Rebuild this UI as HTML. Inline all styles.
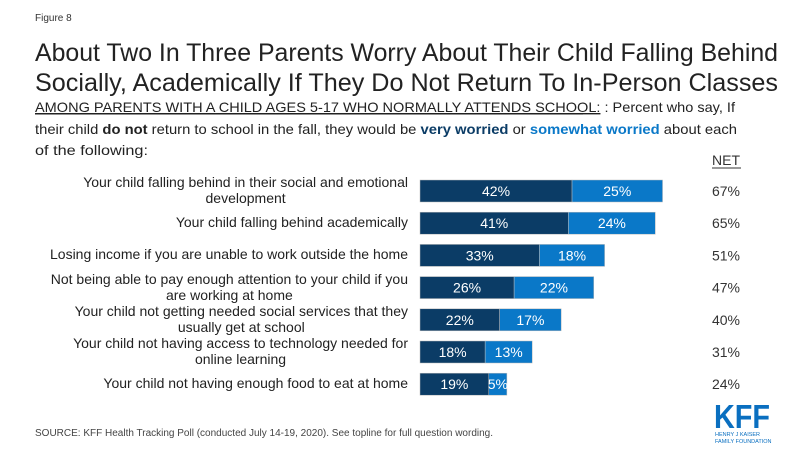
<!DOCTYPE html>
<html><head><meta charset="utf-8"><style>
body{margin:0;background:#fff;font-family:"Liberation Sans",Arial,sans-serif}
#wrap{position:relative;width:800px;height:450px;overflow:hidden}
.lbl{position:absolute;right:392px;text-align:center;white-space:nowrap;font-size:14px;line-height:16px;color:#222}
</style></head><body>
<div id="wrap">
<svg id="svg" width="800" height="450" style="position:absolute;left:0;top:0">
<text x="35" y="21" font-size="10" fill="#333">Figure 8</text>
<text x="35" y="61" font-size="25" fill="#222" textLength="743" lengthAdjust="spacingAndGlyphs">About Two In Three Parents Worry About Their Child Falling Behind</text>
<text x="35" y="91" font-size="25" fill="#222" textLength="743" lengthAdjust="spacingAndGlyphs">Socially, Academically If They Do Not Return To In-Person Classes</text>
<text x="35" y="112" font-size="14" fill="#222" textLength="700" lengthAdjust="spacingAndGlyphs"><tspan text-decoration="underline">AMONG PARENTS WITH A CHILD AGES 5-17 WHO NORMALLY ATTENDS SCHOOL:</tspan> : Percent who say, If</text>
<line x1="35" y1="114" x2="583" y2="114" stroke="#222" stroke-width="1"/>
<text x="35" y="134" font-size="14" fill="#222" textLength="702" lengthAdjust="spacingAndGlyphs">their child <tspan font-weight="bold">do not</tspan> return to school in the fall, they would be <tspan font-weight="bold" fill="#0b3c66">very worried</tspan> or <tspan font-weight="bold" fill="#0a78c8">somewhat worried</tspan> about each</text>
<text x="35" y="155" font-size="14" fill="#222" textLength="113" lengthAdjust="spacingAndGlyphs">of the following:</text>
<text x="726" y="165" font-size="14" fill="#333" text-anchor="middle">NET</text>
<line x1="712" y1="168" x2="741" y2="168" stroke="#333" stroke-width="1"/>
<text x="35" y="436" font-size="10" fill="#444">SOURCE: KFF Health Tracking Poll (conducted July 14-19, 2020). See topline for full question wording.</text>
<g>
<text x="714" y="428" font-size="33" font-weight="bold" fill="#0a6fc0" textLength="56" lengthAdjust="spacingAndGlyphs">KFF</text>
<text x="715" y="436" font-size="5.5" fill="#0a6fc0">HENRY J KAISER</text>
<text x="715" y="443" font-size="5.5" fill="#0a6fc0">FAMILY FOUNDATION</text>
</g>
<g id="bars"></g>
</svg>
<div id="labels"></div>
</div>
<script>
const categories=["Your child falling behind in their social and emotional<br>development","Your child falling behind academically","Losing income if you are unable to work outside the home","Not being able to pay enough attention to your child if you<br>are working at home","Your child not getting needed social services that they<br>usually get at school","Your child not having access to technology needed for<br>online learning","Your child not having enough food to eat at home"];
const veryWorried=[42,41,33,26,22,18,19];
const somewhatWorried=[25,24,18,22,17,13,5];
const netValues=[67,65,51,47,40,31,24];

const x0=420, pxPer=3.62, y0=191, step=32.2, bh=22;
const xs=v=>v*pxPer;
const ys=i=>y0+i*step;
const NS="http://www.w3.org/2000/svg";
const g=document.getElementById('bars');
const L=document.getElementById('labels');
function mk(tag,attrs){const e=document.createElementNS(NS,tag);for(const k in attrs)e.setAttribute(k,attrs[k]);g.appendChild(e);return e;}
categories.forEach((c,i)=>{
  const cy=ys(i);
  const w1=xs(veryWorried[i]), w2=xs(somewhatWorried[i]);
  const r1=mk('rect',{x:x0,y:cy-bh/2,width:w1,height:bh,fill:'#0b3c66',stroke:'#bbb','stroke-width':0.5});
  
  
  const r2=mk('rect',{x:x0+w1,y:cy-bh/2,width:w2,height:bh,fill:'#0a78c8',stroke:'#bbb','stroke-width':0.5});
  
  
  const t1=mk('text',{x:x0+w1/2,y:cy+5,'text-anchor':'middle','font-size':14,fill:'#fff'});
  t1.textContent=veryWorried[i]+'%';
  
  
  const t2=mk('text',{x:x0+w1+w2/2,y:cy+5,'text-anchor':'middle','font-size':14,fill:'#fff'});
  t2.textContent=somewhatWorried[i]+'%';
  
  
  const t3=mk('text',{x:726,y:cy+5,'text-anchor':'middle','font-size':14,fill:'#333'});
  t3.textContent=netValues[i]+'%';
  
  
  const d=document.createElement('div');
  d.className='lbl';
  d.innerHTML=c;
  const lines=c.split('<br>').length;
  d.style.top=(cy-lines*8-1)+'px';
  
  
  L.appendChild(d);
});
</script>
</body></html>
